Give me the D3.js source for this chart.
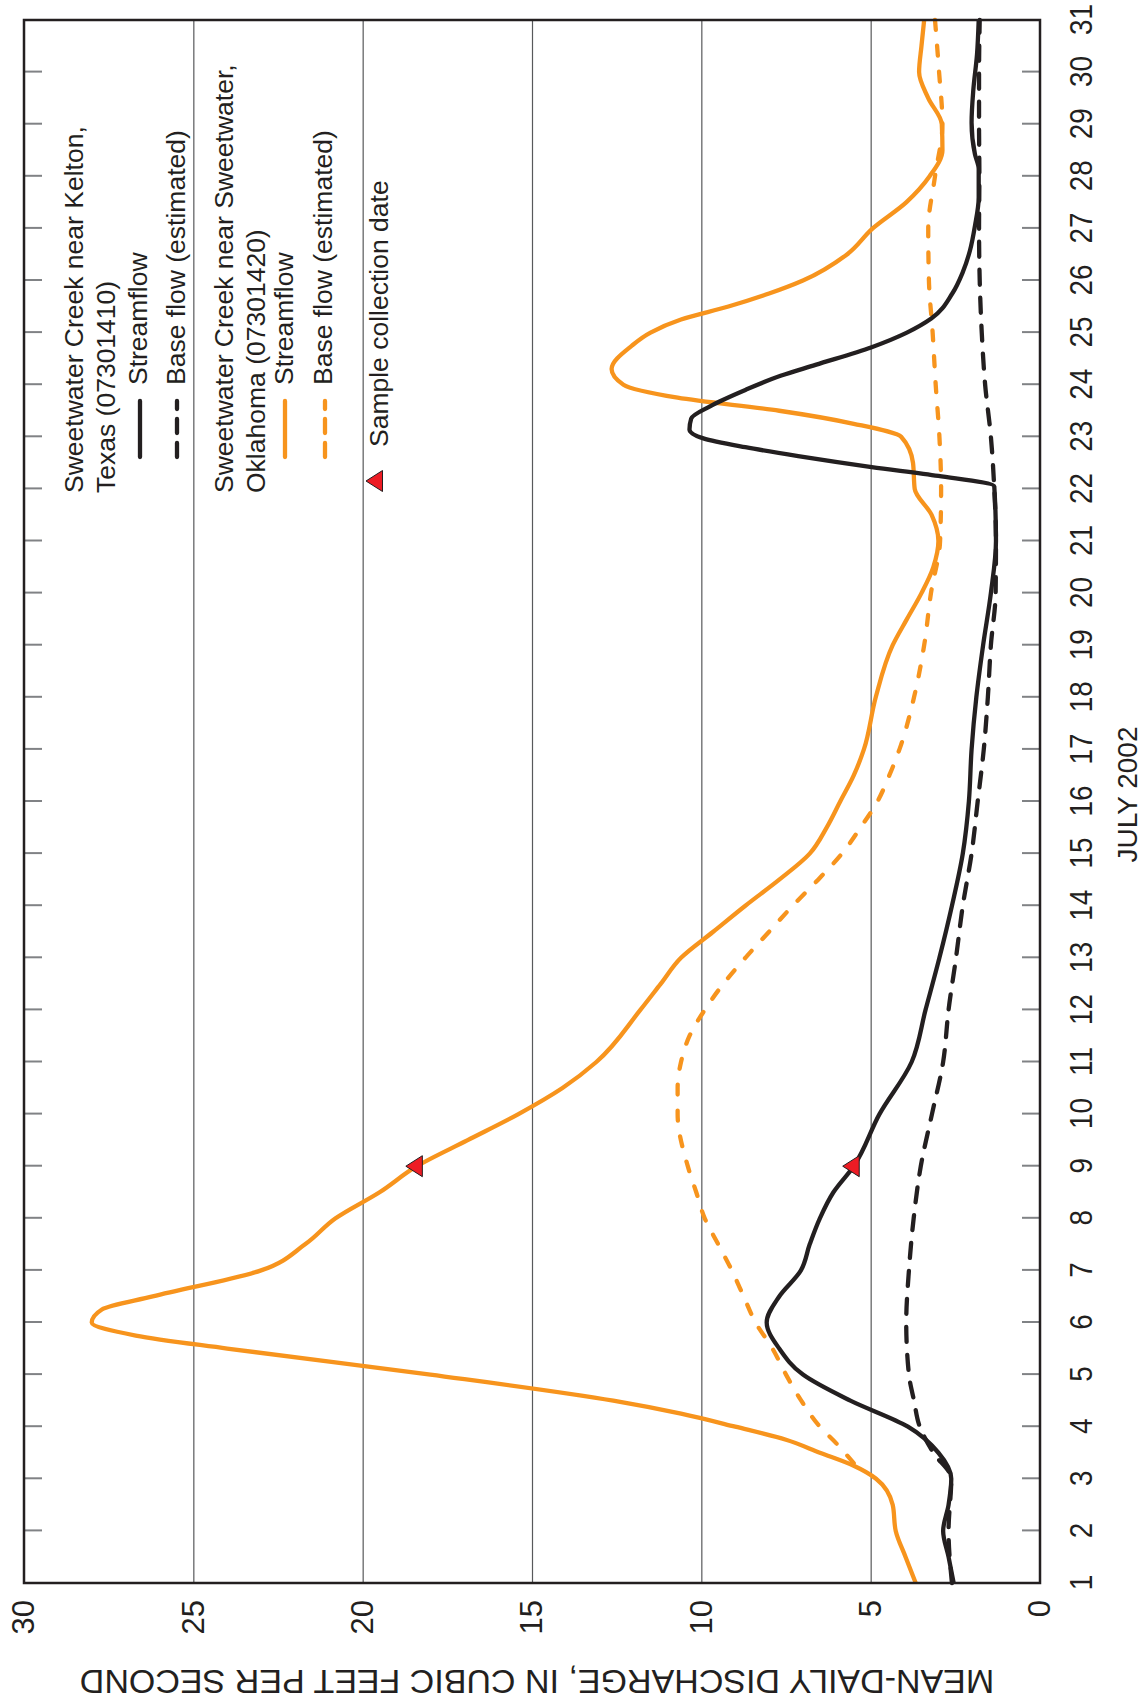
<!DOCTYPE html>
<html>
<head>
<meta charset="utf-8">
<script src="https://cdn.jsdelivr.net/npm/d3@7"></script>
<style>
  html, body { margin: 0; padding: 0; background: #fff; }
  svg { display: block; font-family: 'Liberation Sans', Arial, Helvetica, sans-serif; }
</style>
</head>
<body>
<svg id="chart" width="1147" height="1703"></svg>
<script>
// Sweetwater Creek near Kelton, Texas (07301410) - streamflow
const kelDays = [1, 1.5, 2, 2.5, 3, 3.5, 4, 4.5, 5, 5.5, 6, 6.5, 7, 7.5, 8, 8.5, 9, 10, 11, 12,
  13, 14, 15, 16, 17, 18, 19, 20, 21, 22.05, 22.25, 22.42, 22.63, 22.8, 22.97, 23.14, 23.35, 23.59, 23.9, 24.17,
  24.38, 24.72, 25, 25.27, 25.75, 26.16, 26.57, 27.05, 27.6, 28.14, 28.42, 29.03, 29.65, 30.34, 31]
const kelFlow = [2.55, 2.7, 2.86, 2.7, 2.62, 3.0, 3.9, 5.6, 7.0, 7.7, 8.07, 7.7, 7.06, 6.8, 6.5, 6.1, 5.5, 4.74, 3.79, 3.38,
  2.97, 2.6, 2.28, 2.1, 2.02, 1.88, 1.68, 1.45, 1.3, 1.35, 3.0, 4.97, 7.14, 8.7, 9.94, 10.35, 10.3, 9.73, 8.7, 7.66,
  6.63, 4.97, 3.93, 3.21, 2.59, 2.28, 2.07, 1.92, 1.81, 1.81, 1.92, 2.02, 1.97, 1.86, 1.81]

// Kelton - base flow (estimated)
const kelBaseDays = [1, 2, 3, 3.5, 4, 4.5, 5, 6, 7, 8, 9, 10, 11, 12, 13, 14, 15, 16, 17, 18,
  19, 20, 21, 22, 23, 24, 25, 26, 27, 28, 29, 30, 31]
const kelBase = [2.6, 2.7, 2.62, 3.15, 3.55, 3.72, 3.87, 3.95, 3.87, 3.73, 3.52, 3.19, 2.86, 2.7, 2.48, 2.28, 2.02, 1.84, 1.66, 1.54,
  1.45, 1.31, 1.3, 1.35, 1.45, 1.62, 1.72, 1.78, 1.8, 1.79, 1.8, 1.8, 1.78]

// Sweetwater Creek near Sweetwater, Oklahoma (07301420) - streamflow
const swDays = [1, 1.5, 2, 2.5, 3, 3.25, 3.5, 3.75, 4, 4.25, 4.5, 5, 5.5, 5.75, 6, 6.25, 6.5, 7, 7.5, 8,
  8.5, 9, 9.5, 10, 10.5, 11, 12, 12.5, 13, 13.5, 14, 14.5, 15, 15.5, 16, 16.5, 17, 18, 19, 19.5,
  20, 20.5, 21, 21.5, 22, 22.5, 23, 23.25, 23.5, 23.75, 24, 24.3, 24.75, 25, 25.25, 25.5, 25.75, 26, 26.5, 27,
  27.5, 28, 28.5, 29, 29.5, 30, 30.5, 31]
const swFlow = [3.67, 3.97, 4.26, 4.35, 4.84, 5.5, 6.5, 7.5, 9.0, 10.6, 12.6, 18.0, 24.0, 26.7, 28.0, 27.7, 26.2, 23.0, 21.7, 20.8,
  19.5, 18.4, 16.9, 15.4, 14.1, 13.1, 11.8, 11.2, 10.6, 9.65, 8.7, 7.7, 6.8, 6.3, 5.9, 5.5, 5.2, 4.85, 4.35, 3.93,
  3.5, 3.15, 3.0, 3.2, 3.7, 3.75, 4.1, 5.5, 7.7, 10.7, 12.3, 12.65, 12.05, 11.5, 10.6, 9.2, 8.0, 7.0, 5.7, 4.94,
  3.95, 3.26, 2.88, 2.9, 3.3, 3.57, 3.5, 3.42]

// Sweetwater - base flow (estimated)
const swBaseDays = [3.3, 3.67, 4, 4.5, 5, 5.5, 6, 6.5, 7, 7.5, 8, 8.5, 9, 10, 10.5, 11, 11.5, 12, 12.5, 13,
  13.5, 14, 14.5, 15, 15.5, 16, 16.5, 17, 18, 19, 20, 21, 22, 23, 24, 25, 26, 27, 28, 29, 30, 31]
const swBase = [5.5, 6.0, 6.5, 7.05, 7.5, 7.9, 8.4, 8.75, 9.1, 9.5, 9.9, 10.15, 10.4, 10.7, 10.7, 10.6, 10.35, 9.9, 9.35, 8.7,
  8.0, 7.3, 6.55, 5.85, 5.3, 4.8, 4.45, 4.15, 3.72, 3.42, 3.22, 2.95, 2.92, 2.97, 3.08, 3.17, 3.28, 3.3, 3.1, 2.88, 2.98, 3.1]

const sampleDay = 9
const dayTicks = d3.range(1, 32)
const valueTicks = [0, 5, 10, 15, 20, 25, 30]
const gridValues = [5, 10, 15, 20, 25]

const ORANGE = '#f7941d'
const INK = '#231f20'
const LINE_W = 4.3

// the figure is laid out like a normal chart, then turned a quarter turn to the left
const W = 1703
const H = 1147
const margin = { top: 24, right: 20, bottom: 107, left: 120 }

const svg = d3.select('#chart')
svg.append('rect').attr('width', 1147).attr('height', 1703).attr('fill', '#fff')

const root = svg.append('g').attr('transform', `translate(0, ${W}) rotate(-90)`)

const x = d3.scaleLinear().domain([1, 31]).range([margin.left, W - margin.right])
const y = d3.scaleLinear().domain([0, 30]).range([H - margin.bottom, margin.top])
const plotW = x.range()[1] - x.range()[0]

const clean = g => g.attr('font-family', null).attr('font-size', null).select('.domain').remove()

// gridlines
root.append('g')
  .attr('transform', `translate(${x(1)}, 0)`)
  .call(d3.axisLeft(y).tickValues(gridValues).tickSize(-plotW).tickFormat(''))
  .call(clean)
  .call(g => g.selectAll('line').attr('stroke', '#58595b').attr('stroke-width', 1.2))

// inward day ticks, both edges
const innerDays = dayTicks.slice(1, -1)
root.append('g')
  .attr('transform', `translate(0, ${y(0)})`)
  .call(d3.axisBottom(x).tickValues(innerDays).tickSize(-18).tickFormat(''))
  .call(clean)
  .call(g => g.selectAll('line').attr('stroke', '#808285').attr('stroke-width', 2))
root.append('g')
  .attr('transform', `translate(0, ${y(30)})`)
  .call(d3.axisTop(x).tickValues(innerDays).tickSize(-18).tickFormat(''))
  .call(clean)
  .call(g => g.selectAll('line').attr('stroke', '#808285').attr('stroke-width', 2))

// day labels
root.append('g')
  .attr('transform', `translate(0, ${y(0)})`)
  .call(d3.axisBottom(x).tickValues(dayTicks).tickSize(0).tickPadding(30).tickFormat(d3.format('d')))
  .call(clean)
  .call(g => g.selectAll('text')
    .attr('font-size', 31).attr('fill', INK).attr('transform', 'scale(0.9,1)'))

// discharge labels
root.append('g')
  .attr('transform', `translate(${x(1)}, 0)`)
  .call(d3.axisLeft(y).tickValues(valueTicks).tickSize(0).tickPadding(17))
  .call(clean)
  .call(g => g.selectAll('text').attr('font-size', 31).attr('fill', INK))

const line = d3.line()
  .x(d => x(d[0]))
  .y(d => y(d[1]))
  .curve(d3.curveMonotoneX)

const series = [
  { days: swBaseDays, values: swBase, color: ORANGE, dash: '10,16' },
  { days: swDays, values: swFlow, color: ORANGE, dash: null },
  { days: kelBaseDays, values: kelBase, color: INK, dash: '15,13' },
  { days: kelDays, values: kelFlow, color: INK, dash: null },
]

root.append('g').selectAll('path')
  .data(series)
  .join('path')
  .attr('d', s => line(d3.zip(s.days, s.values)))
  .attr('fill', 'none')
  .attr('stroke', s => s.color)
  .attr('stroke-width', LINE_W)
  .attr('stroke-dasharray', s => s.dash)
  .attr('stroke-linecap', s => s.dash ? 'round' : 'butt')
  .attr('stroke-linejoin', 'round')

// sample collection markers sit on each streamflow line
const triangle = 'M0,-11L10.5,5.5L-10.5,5.5Z'
const samples = [
  swFlow[swDays.indexOf(sampleDay)],
  kelFlow[kelDays.indexOf(sampleDay)],
]
root.append('g').selectAll('path')
  .data(samples)
  .join('path')
  .attr('d', triangle)
  .attr('transform', v => `translate(${x(sampleDay)}, ${y(v)})`)
  .attr('fill', '#ed1c24')
  .attr('stroke', INK)
  .attr('stroke-width', 1)

// frame
root.append('rect')
  .attr('x', x(1)).attr('y', y(30))
  .attr('width', plotW).attr('height', y(0) - y(30))
  .attr('fill', 'none')
  .attr('stroke', INK)
  .attr('stroke-width', 2.5)

// axis titles
root.append('text')
  .attr('x', (x(1) + x(31)) / 2 + 7).attr('y', 1137)
  .attr('text-anchor', 'middle').attr('font-size', 28).attr('fill', INK)
  .text('JULY 2002')

root.append('text')
  .attr('transform', `translate(33, ${(y(0) + y(30)) / 2 + 5}) rotate(-90)`)
  .attr('text-anchor', 'middle').attr('font-size', 34).attr('fill', INK)
  .text('MEAN-DAILY DISCHARGE, IN CUBIC FEET PER SECOND')

// legend
const legend = root.append('g').attr('font-size', 26.5).attr('fill', INK)
const legendText = [
  { text: 'Sweetwater Creek near Kelton,', x: 1210, y: 83 },
  { text: 'Texas (07301410)', x: 1210, y: 115 },
  { text: 'Streamflow', x: 1318, y: 147 },
  { text: 'Base flow (estimated)', x: 1318, y: 185 },
  { text: 'Sweetwater Creek near Sweetwater,', x: 1210, y: 233 },
  { text: 'Oklahoma (07301420)', x: 1210, y: 265 },
  { text: 'Streamflow', x: 1318, y: 293 },
  { text: 'Base flow (estimated)', x: 1318, y: 332 },
  { text: 'Sample collection date', x: 1256, y: 388 },
]
legend.selectAll('text')
  .data(legendText)
  .join('text')
  .attr('x', d => d.x).attr('y', d => d.y)
  .text(d => d.text)

const legendKeys = [
  { y: 140, color: INK, dash: null },
  { y: 177, color: INK, dash: '14,10' },
  { y: 285, color: ORANGE, dash: null },
  { y: 325, color: ORANGE, dash: '14,10' },
]
legend.selectAll('line')
  .data(legendKeys)
  .join('line')
  .attr('x1', 1246).attr('x2', 1302)
  .attr('y1', d => d.y).attr('y2', d => d.y)
  .attr('stroke', d => d.color)
  .attr('stroke-width', LINE_W)
  .attr('stroke-dasharray', d => d.dash)
  .attr('stroke-linecap', 'round')

legend.append('path')
  .attr('d', triangle)
  .attr('transform', 'translate(1222, 377)')
  .attr('fill', '#ed1c24')
  .attr('stroke', INK)
  .attr('stroke-width', 1)
</script>
</body>
</html>
